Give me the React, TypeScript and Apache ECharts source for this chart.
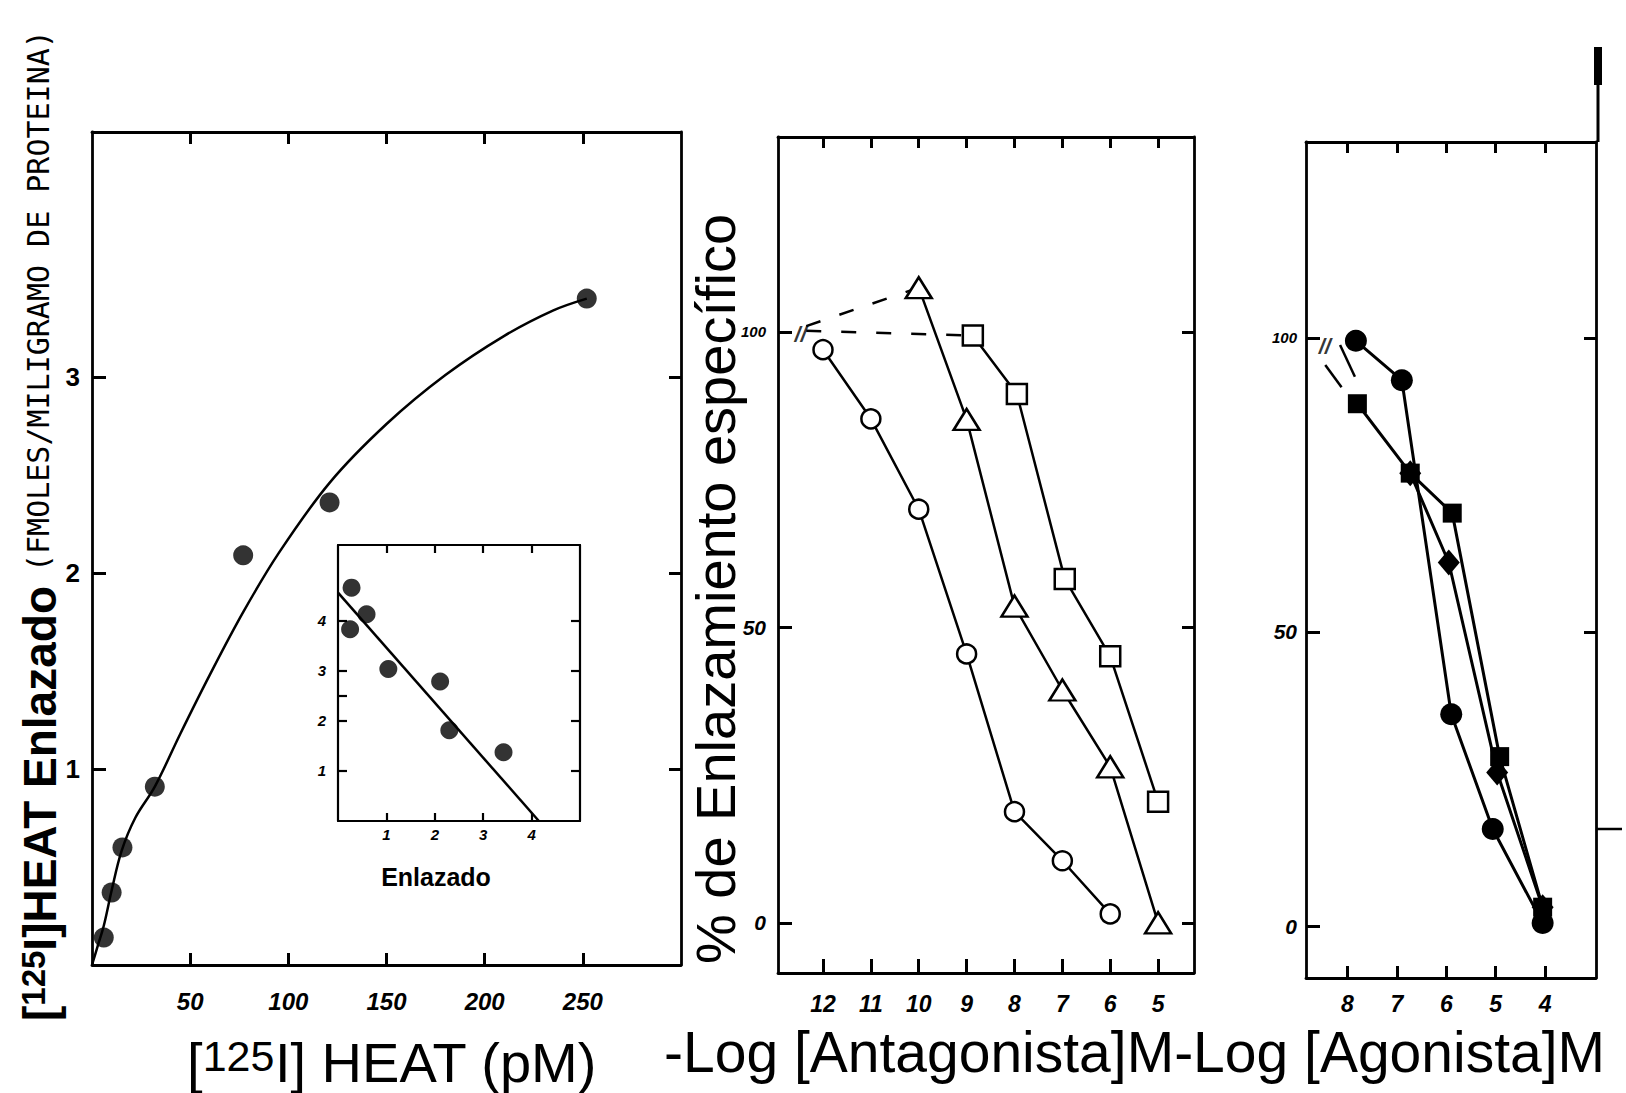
import React, { useEffect, useRef } from 'react';
import * as echarts from 'echarts';

// ---------- Panel A: saturation curve ----------
const satX = [6, 10, 15.5, 32, 77, 121, 252];
const satY = [0.14, 0.37, 0.6, 0.91, 2.09, 2.36, 3.4];
const curveX = [0, 3, 6, 10, 15, 22, 32, 45, 60, 77, 95, 121, 150, 180, 210, 235, 252];
const curveY = [0, 0.1, 0.2, 0.38, 0.58, 0.75, 0.91, 1.18, 1.48, 1.8, 2.1, 2.46, 2.76, 3.01, 3.21, 3.34, 3.4];
const satXTicks = [50, 100, 150, 200, 250];
const satYTicks = [1, 2, 3];

// ---------- Inset: Scatchard ----------
const scatX = [0.28, 0.59, 0.25, 1.04, 2.11, 2.3, 3.42];
const scatY = [4.65, 4.12, 3.82, 3.03, 2.78, 1.81, 1.37];
const scatLineX = [0, 4.15];
const scatLineY = [4.55, 0];
const scatTicks = [1, 2, 3, 4];
const scatLeftTicks = [1, 2, 2.5, 3, 4];

// ---------- Panel B: antagonists ----------
const antCircleX = [12, 11, 10, 9, 8, 7, 6];
const antCircleY = [97, 85.3, 70, 45.5, 18.8, 10.5, 1.5];
const antTriX = [10, 9, 8, 7, 6, 5];
const antTriY = [107.5, 85.2, 53.6, 39.4, 26.4, 0];
const antSqX = [8.87, 7.95, 6.95, 6, 5];
const antSqY = [99.4, 89.5, 58.2, 45.1, 20.5];
const antDashTriX = [12.35, 10];
const antDashTriY = [101, 107.5];
const antDashSqX = [12.35, 8.87];
const antDashSqY = [100.2, 99.4];
const antBreak = [12.47, 99.5];
const antXTicks = [12, 11, 10, 9, 8, 7, 6, 5];
const pctTicks = [0, 50, 100];

// ---------- Panel C: agonists ----------
const agoCircleX = [7.83, 6.9, 5.9, 5.06, 4.05];
const agoCircleY = [99.5, 92.8, 36, 16.5, 0.5];
const agoSqX = [7.8, 6.73, 5.88, 4.92, 4.05];
const agoSqY = [88.8, 77, 70.2, 28.8, 3.2];
const agoDiaX = [6.73, 5.95, 4.97, 4.05];
const agoDiaY = [77, 61.8, 26.1, 3.2];
const agoArrow1X = [8.15, 7.85];
const agoArrow1Y = [98.8, 93.4];
const agoArrow2X = [8.45, 8.12];
const agoArrow2Y = [95.4, 91.6];
const agoBreak = [8.46, 98.5];
const agoXTicks = [8, 7, 6, 5, 4];

const zip = (xs: number[], ys: number[]) => xs.map((x, i) => [x, ys[i]]);

const K = '#000';
const SANS = 'Liberation Sans';

const tick = (vals: number[], len = 11, width = 3) => ({
  show: true,
  inside: true,
  length: len,
  customValues: vals,
  lineStyle: { color: K, width },
});

const axLine = (w: number) => ({ show: true, onZero: false, lineStyle: { color: K, width: w } });
const noSplit = { show: false };

function makeOption(): any {
  const grids = [
    { left: 92, top: 132, width: 589, height: 833 },
    { left: 338, top: 545, width: 242, height: 276 },
    { left: 778, top: 137, width: 416, height: 836 },
    { left: 1306, top: 142, width: 290, height: 836 },
  ].map((g) => ({ ...g, show: false, containLabel: false }));

  const numLabel = (vals: number[], size: number, margin: number, extra: any = {}) => ({
    show: true,
    customValues: vals,
    margin,
    color: K,
    fontFamily: SANS,
    fontSize: size,
    fontStyle: 'italic',
    fontWeight: 'bold',
    ...extra,
  });

  const W = 2.8;
  const WI = 2.2;

  const xAxis = [
    // panel A
    { gridIndex: 0, type: 'value', min: 0, max: 300, position: 'bottom', axisLine: axLine(W), splitLine: noSplit,
      axisTick: tick(satXTicks, 12), axisLabel: numLabel(satXTicks, 24, 24) },
    { gridIndex: 0, type: 'value', min: 0, max: 300, position: 'top', axisLine: axLine(W), splitLine: noSplit,
      axisTick: tick(satXTicks, 12), axisLabel: { show: false } },
    // inset
    { gridIndex: 1, type: 'value', min: 0, max: 5, position: 'bottom', axisLine: axLine(WI), splitLine: noSplit,
      axisTick: tick(scatTicks, 8, 2.2), axisLabel: numLabel(scatTicks, 15, 6) },
    { gridIndex: 1, type: 'value', min: 0, max: 5, position: 'top', axisLine: axLine(WI), splitLine: noSplit,
      axisTick: tick(scatTicks, 8, 2.2), axisLabel: { show: false } },
    // panel B
    { gridIndex: 2, type: 'value', min: 4.25, max: 12.94, inverse: true, position: 'bottom', axisLine: axLine(W), splitLine: noSplit,
      axisTick: tick(antXTicks, 14), axisLabel: numLabel(antXTicks, 23, 19) },
    { gridIndex: 2, type: 'value', min: 4.25, max: 12.94, inverse: true, position: 'top', axisLine: axLine(W), splitLine: noSplit,
      axisTick: tick(antXTicks, 11), axisLabel: { show: false } },
    // panel C
    { gridIndex: 3, type: 'value', min: 2.97, max: 8.84, inverse: true, position: 'bottom', axisLine: axLine(W), splitLine: noSplit,
      axisTick: tick(agoXTicks, 12), axisLabel: numLabel(agoXTicks, 23, 14) },
    { gridIndex: 3, type: 'value', min: 2.97, max: 8.84, inverse: true, position: 'top', axisLine: axLine(W), splitLine: noSplit,
      axisTick: tick(agoXTicks, 11), axisLabel: { show: false } },
  ];

  const pctFormatter = (v: number) => (v === 100 ? '{s|100}' : String(v));
  const pctRich = { s: { fontSize: 15, fontWeight: 'bold', fontStyle: 'italic', fontFamily: SANS, color: K } };

  const yAxis = [
    // panel A
    { gridIndex: 0, type: 'value', min: 0, max: 4.25, position: 'left', axisLine: axLine(W), splitLine: noSplit,
      axisTick: tick(satYTicks, 14), axisLabel: numLabel(satYTicks, 26, 12, { fontStyle: 'normal' }) },
    { gridIndex: 0, type: 'value', min: 0, max: 4.25, position: 'right', axisLine: axLine(W), splitLine: noSplit,
      axisTick: tick(satYTicks, 12), axisLabel: { show: false } },
    // inset
    { gridIndex: 1, type: 'value', min: 0, max: 5.5, position: 'left', axisLine: axLine(WI), splitLine: noSplit,
      axisTick: tick(scatLeftTicks, 9, 2.2), axisLabel: numLabel(scatTicks, 15, 12) },
    { gridIndex: 1, type: 'value', min: 0, max: 5.5, position: 'right', axisLine: axLine(WI), splitLine: noSplit,
      axisTick: tick(scatTicks, 9, 2.2), axisLabel: { show: false } },
    // panel B
    { gridIndex: 2, type: 'value', min: -8.5, max: 133, position: 'left', axisLine: axLine(W), splitLine: noSplit,
      axisTick: tick(pctTicks, 14), axisLabel: numLabel(pctTicks, 21, 12, { formatter: pctFormatter, rich: pctRich }) },
    { gridIndex: 2, type: 'value', min: -8.5, max: 133, position: 'right', axisLine: axLine(W), splitLine: noSplit,
      axisTick: tick(pctTicks, 12), axisLabel: { show: false } },
    // panel C
    { gridIndex: 3, type: 'value', min: -8.84, max: 133.3, position: 'left', axisLine: axLine(W), splitLine: noSplit,
      axisTick: tick(pctTicks, 14), axisLabel: numLabel(pctTicks, 21, 9, { formatter: pctFormatter, rich: pctRich }) },
    { gridIndex: 3, type: 'value', min: -8.84, max: 133.3, position: 'right', axisLine: axLine(W), splitLine: noSplit,
      axisTick: tick([50, 100], 12), axisLabel: { show: false } },
  ];

  const lineS = { color: K, width: 2.5 };
  const openItem = { color: '#fff', borderColor: K, borderWidth: 2.5 };
  const filledItem = { color: K, borderColor: K, borderWidth: 0 };
  const breakLabel = (pt: number[], xi: number, yi: number) => ({
    type: 'scatter', xAxisIndex: xi, yAxisIndex: yi, data: [pt], symbolSize: 1,
    itemStyle: { color: 'rgba(0,0,0,0)' }, silent: true,
    label: { show: true, position: 'inside', formatter: '//', fontSize: 22, fontWeight: 'bold',
      fontStyle: 'italic', fontFamily: SANS, color: K },
  });

  const series = [
    // panel A
    { type: 'line', xAxisIndex: 0, yAxisIndex: 0, data: zip(curveX, curveY), smooth: 0.35,
      symbol: 'none', lineStyle: lineS },
    { type: 'scatter', xAxisIndex: 0, yAxisIndex: 0, data: zip(satX, satY), symbolSize: 20, itemStyle: filledItem },
    // inset
    { type: 'line', xAxisIndex: 2, yAxisIndex: 2, data: zip(scatLineX, scatLineY), symbol: 'none', lineStyle: lineS },
    { type: 'scatter', xAxisIndex: 2, yAxisIndex: 2, data: zip(scatX, scatY), symbolSize: 18, itemStyle: filledItem },
    // panel B dashed connectors
    { type: 'line', xAxisIndex: 4, yAxisIndex: 4, data: zip(antDashTriX, antDashTriY), symbol: 'none',
      lineStyle: { color: K, width: 2.5, type: [15, 20] } },
    { type: 'line', xAxisIndex: 4, yAxisIndex: 4, data: zip(antDashSqX, antDashSqY), symbol: 'none',
      lineStyle: { color: K, width: 2.5, type: [15, 20] } },
    breakLabel(antBreak, 4, 4),
    // panel B series
    { type: 'line', xAxisIndex: 4, yAxisIndex: 4, data: zip(antCircleX, antCircleY), symbol: 'circle',
      symbolSize: 19, itemStyle: openItem, lineStyle: lineS },
    { type: 'line', xAxisIndex: 4, yAxisIndex: 4, data: zip(antTriX, antTriY), symbol: 'triangle',
      symbolSize: [26, 21], itemStyle: openItem, lineStyle: lineS },
    { type: 'line', xAxisIndex: 4, yAxisIndex: 4, data: zip(antSqX, antSqY), symbol: 'rect',
      symbolSize: 20, itemStyle: openItem, lineStyle: lineS },
    // panel C
    { type: 'line', xAxisIndex: 6, yAxisIndex: 6, data: zip(agoArrow1X, agoArrow1Y), symbol: 'none', lineStyle: lineS },
    { type: 'line', xAxisIndex: 6, yAxisIndex: 6, data: zip(agoArrow2X, agoArrow2Y), symbol: 'none', lineStyle: lineS },
    breakLabel(agoBreak, 6, 6),
    { type: 'line', xAxisIndex: 6, yAxisIndex: 6, data: zip(agoCircleX, agoCircleY), symbol: 'circle',
      symbolSize: 22, itemStyle: filledItem, lineStyle: { color: K, width: 3 } },
    { type: 'line', xAxisIndex: 6, yAxisIndex: 6, data: zip(agoSqX, agoSqY), symbol: 'rect',
      symbolSize: 19, itemStyle: filledItem, lineStyle: { color: K, width: 3 } },
    { type: 'line', xAxisIndex: 6, yAxisIndex: 6, data: zip(agoDiaX, agoDiaY), symbol: 'diamond',
      symbolSize: [22, 26], itemStyle: filledItem, lineStyle: { color: K, width: 3 } },
  ];

  const txt = (x: number, y: number, text: string, style: any, rotation = 0) => ({
    type: 'text', x, y, rotation, silent: true,
    style: { text, fill: K, ...style },
  });

  const graphic = [
    // Panel A y title (vertical, reads bottom to top)
    txt(40, 1021, '{n|[}{s|125}{n|I]HEAT Enlazado}', {
      align: 'left', verticalAlign: 'middle', textAlign: 'left', textVerticalAlign: 'middle',
      fontFamily: SANS, fontSize: 46, fontWeight: 'bold',
      rich: {
        n: { fontFamily: SANS, fontSize: 46, fontWeight: 'bold', fill: K, verticalAlign: 'bottom' },
        s: { fontFamily: SANS, fontSize: 33, fontWeight: 'bold', fill: K, verticalAlign: 'top' },
      },
    }, Math.PI / 2),
    txt(38, 572, '(FMOLES/MILIGRAMO DE PROTEINA)', {
      align: 'left', verticalAlign: 'middle', textAlign: 'left', textVerticalAlign: 'middle',
      fontFamily: 'DejaVu Sans Mono', fontSize: 30,
    }, Math.PI / 2),
    // Panel A x title
    txt(392, 1062, '{n|[}{s|125}{n|I] HEAT (pM)}', {
      align: 'center', verticalAlign: 'middle', textAlign: 'center', textVerticalAlign: 'middle',
      fontFamily: SANS, fontSize: 56,
      rich: {
        n: { fontFamily: SANS, fontSize: 56, fill: K, verticalAlign: 'bottom' },
        s: { fontFamily: SANS, fontSize: 43, fill: K, verticalAlign: 'top' },
      },
    }),
    // Inset x title
    txt(436, 877, 'Enlazado', {
      align: 'center', verticalAlign: 'middle', textAlign: 'center', textVerticalAlign: 'middle',
      fontFamily: SANS, fontSize: 25, fontWeight: 'bold',
    }),
    // Panel B y title
    txt(715, 589, '% de Enlazamiento específico', {
      align: 'center', verticalAlign: 'middle', textAlign: 'center', textVerticalAlign: 'middle',
      fontFamily: SANS, fontSize: 56,
    }, Math.PI / 2),
    // Bottom titles for panels B and C
    txt(664, 1052, '-Log [Antagonista]M-Log [Agonista]M', {
      align: 'left', verticalAlign: 'middle', textAlign: 'left', textVerticalAlign: 'middle',
      fontFamily: SANS, fontSize: 57,
    }),
    // scan artifact: right border extending above panel C
    { type: 'line', silent: true, shape: { x1: 1598, y1: 47, x2: 1598, y2: 142 }, style: { stroke: K, lineWidth: 3 } },
    { type: 'rect', silent: true, shape: { x: 1594, y: 47, width: 8, height: 38 }, style: { fill: K } },
    { type: 'line', silent: true, shape: { x1: 1596, y1: 829, x2: 1622, y2: 829 }, style: { stroke: K, lineWidth: 2.5 } },
  ];

  return {
    animation: false,
    backgroundColor: '#fff',
    grid: grids,
    xAxis,
    yAxis,
    series,
    graphic,
  };
}

export default function App() {
  const ref = useRef<HTMLDivElement>(null);
  useEffect(() => {
    if (!ref.current) return;
    const chart = echarts.init(ref.current, null, { renderer: 'svg' });
    chart.setOption(makeOption());
    return () => chart.dispose();
  }, []);
  return (
    <div
      ref={ref}
      style={{ position: 'absolute', left: 0, top: 0, width: 1626, height: 1093, background: '#fff' }}
    />
  );
}
